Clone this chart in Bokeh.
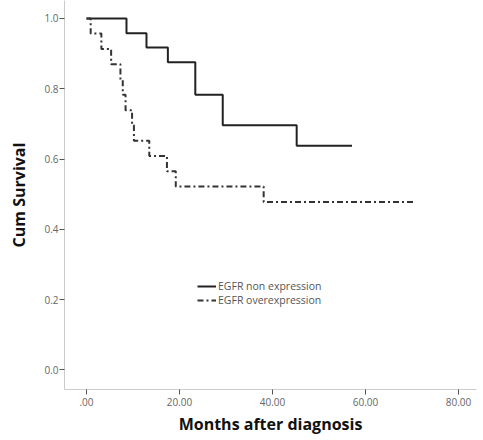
from bokeh.plotting import figure
from bokeh.models import Range1d, FixedTicker, Legend, LegendItem
from bokeh.embed import file_html
from bokeh.resources import INLINE

# Kaplan-Meier step data (months, cumulative survival)
non_expr_time = [0.0, 8.6, 12.9, 17.5, 23.4, 29.3, 45.2, 57.1]
non_expr_surv = [1.0, 0.958, 0.917, 0.875, 0.783, 0.696, 0.638, 0.638]

over_expr_time = [0.0, 0.9, 3.2, 5.3, 7.3, 7.8, 8.4, 9.8, 10.2, 13.5, 17.3, 19.2, 38.1, 70.4]
over_expr_surv = [1.0, 0.957, 0.913, 0.870, 0.826, 0.783, 0.739, 0.696, 0.652, 0.609, 0.565, 0.522, 0.478, 0.478]

x_ticks = [0, 20, 40, 60, 80]
x_tick_labels = [".00", "20.00", "40.00", "60.00", "80.00"]
y_ticks = [0.0, 0.2, 0.4, 0.6, 0.8, 1.0]
y_tick_labels = ["0.0", "0.2", "0.4", "0.6", "0.8", "1.0"]
series_names = ["EGFR non expression", "EGFR overexpression"]

p = figure(width=483, height=440, output_backend="svg", toolbar_location=None,
           x_range=Range1d(-4.73, 83.87), y_range=Range1d(-0.0555, 1.051),
           min_border_left=64, min_border_right=7, min_border_top=0, min_border_bottom=51)
p.outline_line_color = None
p.grid.visible = False
p.background_fill_color = "white"

r1 = p.step(non_expr_time, non_expr_surv, mode="after", line_color="#222222", line_width=2)
r2 = p.step(over_expr_time, over_expr_surv, mode="after", line_color="#333333", line_width=2,
            line_dash="6 3 2 3")

for ax in (p.xaxis[0], p.yaxis[0]):
    ax.axis_line_color = "#cccccc"
    ax.axis_line_width = 1
    ax.major_tick_line_color = "#555555"
    ax.major_tick_in = 0
    ax.major_tick_out = 5
    ax.minor_tick_line_color = None
    ax.major_label_text_font = "Open Sans"
    ax.major_label_text_font_size = "10px"
    ax.major_label_text_color = "#666666"
    ax.axis_label_text_font = "Open Sans"
    ax.axis_label_text_font_style = "bold"
    ax.axis_label_text_font_size = "16px"
    ax.axis_label_text_color = "#111111"

p.xaxis.ticker = FixedTicker(ticks=x_ticks)
p.xaxis.major_label_overrides = {t: l for t, l in zip(x_ticks, x_tick_labels)}
p.yaxis.ticker = FixedTicker(ticks=y_ticks)
p.yaxis.major_label_overrides = {t: l for t, l in zip(y_ticks, y_tick_labels)}
p.xaxis.axis_label = "Months after diagnosis"
p.yaxis.axis_label = "Cum Survival"
p.xaxis.major_label_standoff = 3
p.yaxis.major_label_standoff = 1
p.xaxis.axis_label_standoff = 4
p.yaxis.axis_label_standoff = 11

common = dict(orientation="vertical", padding=0, margin=0, spacing=0,
              glyph_width=19, glyph_height=10, label_height=10, label_standoff=2,
              label_text_font="Open Sans", label_text_font_size="10.5px",
              label_text_color="#555555", background_fill_alpha=0,
              border_line_color=None)
legend1 = Legend(items=[LegendItem(label=series_names[0], renderers=[r1])],
                 location=(133, 96), **common)
legend2 = Legend(items=[LegendItem(label=series_names[1], renderers=[r2])],
                 location=(133, 82), **common)
p.add_layout(legend1)
p.add_layout(legend2)

open("out.html", "w").write(file_html(p, INLINE))
